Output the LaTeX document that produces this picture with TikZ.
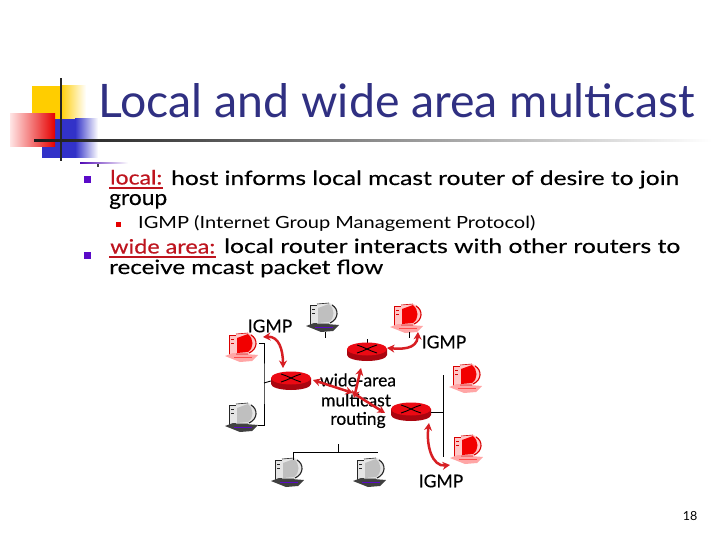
\documentclass[tikz,border=0pt]{standalone}
\usepackage{fontspec}
\usepackage{graphicx}
\setmainfont{Lato}
\newfontfamily\bodyfont[FakeBold=0.3]{Lato}
\usetikzlibrary{arrows.meta}
\definecolor{titleblue}{RGB}{48,48,130}
\definecolor{redtext}{RGB}{190,20,30}
\definecolor{bulletpurple}{RGB}{90,10,200}
\definecolor{routerred}{RGB}{235,10,20}
\definecolor{routerdark}{RGB}{170,5,15}
\definecolor{arrowred}{RGB}{215,30,35}
\definecolor{decoyellow}{RGB}{255,205,0}
\definecolor{decoblue}{RGB}{50,50,200}
\tikzset{
  x=1pt,y=-1pt,
  txt/.style={inner sep=0pt,anchor=base west,text=black},
  lbl/.style={inner sep=0pt,font=\bodyfont\fontsize{17.5}{17.5}\selectfont,text=black},
  hostbox/.style={inner sep=0pt,minimum width=36pt,minimum height=30pt},
  routerbox/.style={inner sep=0pt,minimum width=40pt,minimum height=19pt},
  wire/.style={draw=black,line width=0.9pt},
  redarrow/.style={draw=arrowred,line width=2.5pt,{Stealth[length=7.5pt,width=8pt]}-{Stealth[length=7.5pt,width=8pt]}},
  pics/hostpc/.style n args={5}{code={
    % tower
    \fill[#1] (-13,-12) rectangle (-6,7);
    \draw[#3,line width=0.7pt] (-13,-12) rectangle (-6,7);
    \draw[#3,line width=0.6pt] (-11,-8) -- (-8,-8) (-11,-4) -- (-8,-4);
    % base and keyboard
    \fill[#2] (-17,9) -- (-9,6) -- (16,8) -- (10,14) -- (-2,15) -- cycle;
    \draw[#5,line width=1pt] (-8,10) -- (10,10);
    % monitor
    \fill[#1] (-6,-13) -- (6,-14) .. controls (17,-12) and (17,4) .. (6,7) -- (-6,7) -- cycle;
    \fill[#4] (-5,-9) -- (6,-13) .. controls (12,-8) and (12,1) .. (6,5) -- (-5,6) -- cycle;
    \draw[#3,line width=1.1pt] (9,-12) .. controls (16,-8) and (16,2) .. (7,6);
    \draw[#3,line width=0.6pt] (-6,-13) -- (6,-14) (-6,7) -- (6,7);
  }},
  pics/routershape/.style={code={
    \fill[routerdark] (-20,-3) -- (-20,3) arc[start angle=180,end angle=360,x radius=20,y radius=-6] -- (20,-3) -- cycle;
    \fill[routerred] (0,-3) ellipse[x radius=20,y radius=6.5];
    \draw[black,line width=0.9pt] (-10,-7) .. controls (-3,-5) and (3,-1) .. (10,1);
    \draw[black,line width=0.9pt] (-10,1) .. controls (-3,-1) and (3,-5) .. (10,-7);
  }},
}
\newcommand{\fitw}[3]{\resizebox{#1pt}{#2pt}{#3}}
\begin{document}
\begin{tikzpicture}
\useasboundingbox (0,0) rectangle (720,540);
\fill[white] (0,0) rectangle (720,540);
% decoration
\fill[decoyellow] (32,86) rectangle (61,125);
\shade[left color=decoyellow,right color=white] (60,86) rectangle (86,125);
\fill[decoblue] (42,119) rectangle (76,158);
\shade[left color=decoblue,right color=white] (75,119) rectangle (98,158);
\shade[left color=red!10,right color=red!90!black] (10,114) rectangle (55,147);
\fill[black!85] (60,78) rectangle (62,161);
\shade[left color=black!90,right color=white] (34,140) rectangle (712,142);
\shade[left color=bulletpurple!90!black,right color=white] (80,162.5) rectangle (128,164);
\fill[black!75] (96.5,164) rectangle (98.5,167);
% title
\node[txt,text=titleblue] (title) at (98,118) {\fitw{597}{34}{\fontsize{40}{40}\selectfont Local and wide area multicast}};
% bullets
\fill[bulletpurple] (84,176) rectangle (91,183);
\fill[bulletpurple] (84,252) rectangle (91,259);
\fill[red!90!black] (116,222) rectangle (121,227);
% body text
\node[txt,text=redtext] (t1a) at (110,184.5) {\fitw{52}{14.5}{\bodyfont\fontsize{20}{20}\selectfont local:}};
\fill[redtext] (109,187) rectangle (163,189);
\node[txt] (t1b) at (171,185) {\fitw{508}{14.5}{\bodyfont\fontsize{20}{20}\selectfont host informs local mcast router of desire to join}};
\node[txt] (t2) at (109,205) {\fitw{58}{11}{\bodyfont\fontsize{20}{20}\selectfont group}};
\node[txt] (t3) at (138,229) {\fitw{397}{13}{\fontsize{17}{17}\selectfont IGMP (Internet Group Management Protocol)}};
\node[txt,text=redtext] (t4a) at (110,253.5) {\fitw{105}{14.5}{\bodyfont\fontsize{20}{20}\selectfont wide area:}};
\fill[redtext] (109,256) rectangle (216,258);
\node[txt] (t4b) at (224,253) {\fitw{456}{14.5}{\bodyfont\fontsize{20}{20}\selectfont local router interacts with other routers to}};
\node[txt] (t5) at (109,274) {\fitw{274}{14.5}{\bodyfont\fontsize{20}{20}\selectfont receive mcast packet flow}};
\node[inner sep=0pt,font=\fontsize{12.5}{12.5}\selectfont] (page) at (690,516) {18};
% hosts
\node[hostbox] (hT) at (323,317) {};
\node[hostbox] (hTR) at (407,318) {};
\node[hostbox] (hL) at (242,347) {};
\node[hostbox] (hLB) at (242,417) {};
\node[hostbox] (hR1) at (466,378) {};
\node[hostbox] (hR2) at (467,449) {};
\node[hostbox] (hB1) at (288,472) {};
\node[hostbox] (hB2) at (370,472) {};
\pic at (hT) {hostpc={black!10}{black!75}{black!85}{black!25}{bulletpurple}};
\pic at (hLB) {hostpc={black!10}{black!75}{black!85}{black!25}{bulletpurple}};
\pic at (hB1) {hostpc={black!10}{black!75}{black!85}{black!25}{bulletpurple}};
\pic at (hB2) {hostpc={black!10}{black!75}{black!85}{black!25}{bulletpurple}};
\pic at (hTR) {hostpc={red!22}{red!35}{red!85!black}{red!95!black}{red!70}};
\pic at (hL) {hostpc={red!22}{red!35}{red!85!black}{red!95!black}{red!70}};
\pic at (hR1) {hostpc={red!22}{red!35}{red!85!black}{red!95!black}{red!70}};
\pic at (hR2) {hostpc={red!22}{red!35}{red!85!black}{red!95!black}{red!70}};
% wires
\coordinate (bL) at (264,383);
\draw[wire] (259,343) -| (bL) |- (258,425);
\coordinate (bR) at (443,412);
\draw[wire] (443,375) -- (443,457);
\coordinate (bB) at (338,452);
\draw[wire] (293,460) |- (378,452);
\draw[wire] (bB) -- (338,444);
\draw[wire] (325,332) -- (325,338);
\draw[wire] (367,339) -- (367,345);
\draw[wire] (409,332) -- (409,338);
% routers
\node[routerbox] (rL) at (291,381) {};
\node[routerbox] (rT) at (367,352) {};
\node[routerbox] (rR) at (411,412) {};
\pic at (rL) {routershape};
\pic at (rT) {routershape};
\pic at (rR) {routershape};
\draw[wire] (rL.west) -- (bL);
\draw[wire] (rR.east) -- (bR);
% labels
\node[lbl] (igmpA) at (270,326) {IGMP};
\node[lbl] (igmpB) at (444,342) {IGMP};
\node[lbl] (igmpC) at (441,481) {IGMP};
\node[lbl] (w1) at (358,380) {wide-area};
\node[lbl] (w2) at (356,400) {multicast};
\node[lbl] (w3) at (358,420) {routing};
% arrows
\coordinate (aL) at (263,337);
\coordinate (aTR) at (418,332);
\coordinate (aR) at (450,465);
\coordinate (mid) at (353,393);
\draw[redarrow] (aL) .. controls (279,336) and (283,350) .. (283,368);
\draw[redarrow] (387,348) .. controls (400,349) and (417,350) .. (aTR);
\draw[redarrow] (429,423) .. controls (426,445) and (432,467) .. (aR);
\draw[redarrow] (313,380) -- (mid);
\draw[redarrow] (361,368) -- (354,398);
\draw[draw=arrowred,line width=2.5pt,-{Stealth[length=7.5pt,width=8pt]}] (mid) -- (385,413);
\end{tikzpicture}
\end{document}
